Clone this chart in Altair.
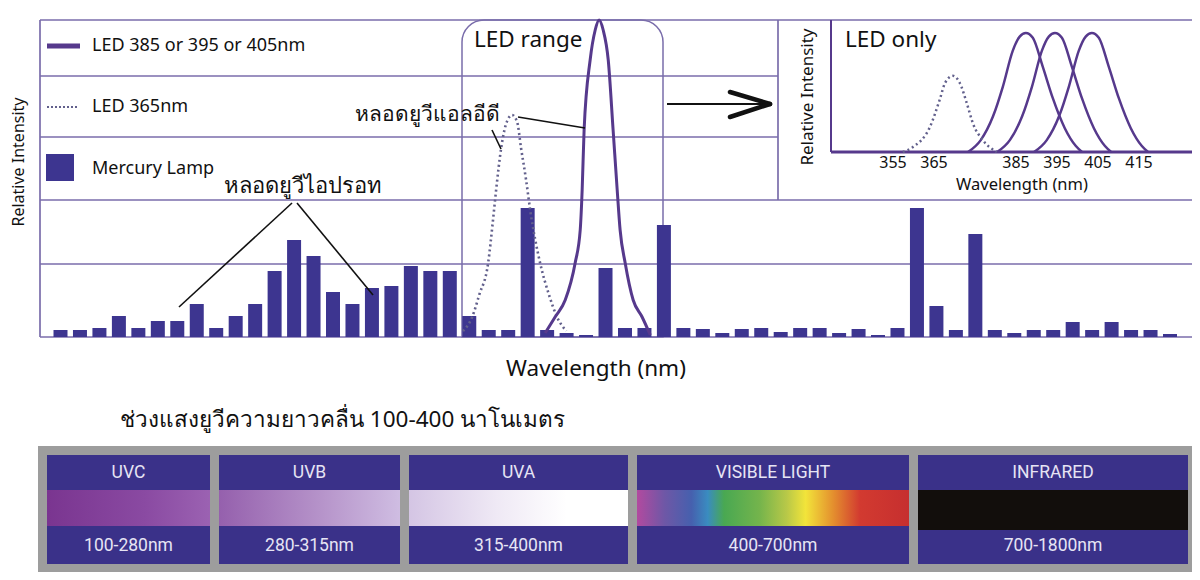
import altair as alt
import pandas as pd

W, H = 1184, 564

# ---------------- data ----------------
bar_index = list(range(1, 59))
bar_heights = [7, 7, 9, 21, 9, 16, 16, 33, 9, 21, 33, 66, 97, 81, 45, 33, 49, 51, 71, 66,
               66, 21, 7, 7, 129, 7, 4, 2, 69, 9, 9, 112, 9, 8, 4, 8, 9, 5, 9, 9,
               4, 8, 2, 9, 129, 31, 7, 103, 7, 4, 7, 7, 15, 7, 15, 7, 7, 3]

led_main_x = [25.90, 26.41, 26.93, 27.44, 27.70, 27.80, 27.90, 28.21, 28.47, 28.67,
              28.88, 29.14, 29.39, 29.60, 29.75, 30.01, 30.42, 30.88, 31.30]
led_main_y = [4, 20, 37, 74, 107, 147, 207, 277, 307, 317, 307, 277, 207, 147, 107, 74, 37, 20, 2]

led365_main_x = [21.68, 22.15, 22.51, 22.97, 23.22, 23.38, 23.64, 23.89, 24.20, 24.46,
                 24.66, 24.92, 25.13, 25.64, 26.10, 26.51, 26.98]
led365_main_y = [6, 20, 42, 74, 117, 147, 189, 213, 222, 215, 189, 157, 127, 74, 42, 20, 6]

inset_ticks = [355, 365, 385, 395, 405, 415]
led385_x = [373.3, 376.4, 379.4, 381.8, 384.2, 385.9, 387.4, 389.1, 391.5, 394.0, 396.9, 399.6, 401.1]
led395_x = [380.4, 383.5, 386.5, 388.9, 391.3, 393.0, 394.5, 396.2, 398.6, 401.1, 404.0, 406.7, 408.2]
led405_x = [389.4, 392.5, 395.5, 397.9, 400.3, 402.0, 403.5, 405.2, 407.6, 410.1, 413.0, 415.7, 417.2]
led_inset_y = [0, 0.10, 0.30, 0.55, 0.85, 0.97, 1.0, 0.96, 0.72, 0.45, 0.20, 0.05, 0]
led365_inset_x = [357.4, 359.8, 364.0, 366.4, 367.7, 369.6, 371.3, 373.0, 374.5, 376.9, 380.3]
led365_inset_y = [0, 0.04, 0.21, 0.44, 0.58, 0.64, 0.58, 0.41, 0.24, 0.10, 0]

legend_labels = ["LED 385 or 395 or 405nm", "LED 365nm", "Mercury Lamp"]
band_names = ["UVC", "UVB", "UVA", "VISIBLE LIGHT", "INFRARED"]
band_ranges = ["100-280nm", "280-315nm", "315-400nm", "400-700nm", "700-1800nm"]
title_y = "Relative Intensity"
title_x = "Wavelength (nm)"
note_led = "หลอดยูวีแอลอีดี"
note_hg = "หลอดยูวีไอปรอท"
subtitle = "ช่วงแสงยูวีความยาวคลื่น 100-400 นาโนเมตร"

# ---------------- styles / layout ----------------
FRAME = "#7a6dab"
BAR = "#3d3590"
CURVE = "#56398c"
DOT = "#62608c"
PANEL = "#3a3189"
GRAY = "#9d9d9d"
FONT = "Noto Sans"
BANDFONT = "Liberation Sans Narrow, Roboto, sans-serif"

main_x = alt.Scale(domain=[1, 58], range=[52.5, 1162], nice=False, zero=False, padding=0)
main_y = alt.Scale(domain=[0, 317], range=[329, 12], nice=False, zero=False, padding=0)
inset_x = alt.Scale(domain=[350, 420], range=[864.5, 1151.5], nice=False, zero=False, padding=0)
inset_y = alt.Scale(domain=[0, 1], range=[144, 25], nice=False, zero=False, padding=0)
cx_s = alt.Scale(domain=[0, W], range=[0, W], nice=False, zero=False, padding=0)
cy_s = alt.Scale(domain=[0, H], range=[0, H], nice=False, zero=False, padding=0)


def X(f, s):
    return alt.X(f, type="quantitative", scale=s, axis=None)


def Y(f, s):
    return alt.Y(f, type="quantitative", scale=s, axis=None)


def segs(rows):
    return pd.DataFrame(rows, columns=["x", "y", "x2", "y2"])


def rules(rows, color, width, dash=None, cap="butt"):
    kw = dict(color=color, strokeWidth=width, strokeCap=cap)
    if dash:
        kw["strokeDash"] = dash
    return alt.Chart(segs(rows)).mark_rule(**kw).encode(
        x=X("x", cx_s), y=Y("y", cy_s), x2=alt.X2("x2"), y2=alt.Y2("y2"))


def rect(rows, **kw):
    return alt.Chart(segs(rows)).mark_rect(**kw).encode(
        x=X("x", cx_s), y=Y("y", cy_s), x2=alt.X2("x2"), y2=alt.Y2("y2"))


def texts(rows, size, align="left", angle=0, color="#111111", font=FONT):
    df = pd.DataFrame(rows, columns=["t", "x", "y"])
    kw = dict(fontSize=size, align=align, baseline="middle", color=color, font=font)
    if angle:
        kw["angle"] = angle
    return alt.Chart(df).mark_text(**kw).encode(
        x=X("x", cx_s), y=Y("y", cy_s), text="t:N")


layers = []

# bottom band background & panels
layers.append(rect([(30, 438, 1188, 565)], color=GRAY))
panel_x0 = [39, 211, 401, 629, 910]
panel_x1 = [202, 392, 620, 901, 1180]
layers.append(rect([(a, 447, b, 556) for a, b in zip(panel_x0, panel_x1)], color=PANEL))

grads = [
    [("#7a3590", 0), ("#8a4aa2", 0.6), ("#9b62b2", 1)],
    [("#9560ad", 0), ("#b592c9", 0.55), ("#cfbde2", 1)],
    [("#d4c5e4", 0), ("#efe9f5", 0.4), ("#ffffff", 0.72), ("#ffffff", 1)],
    [("#b24a9f", 0), ("#6f57a6", 0.1), ("#4660ae", 0.2), ("#3a8cc0", 0.26), ("#49a852", 0.32),
     ("#74b44c", 0.45), ("#b8c848", 0.55), ("#f2e43a", 0.62), ("#e4902e", 0.72),
     ("#d23a30", 0.82), ("#c62f2f", 1)],
    [("#120e0c", 0), ("#120e0c", 1)],
]
for i, g in enumerate(grads):
    y1 = 522 if i == 4 else 518
    fill = alt.Gradient(gradient="linear", x1=0, x2=1, y1=0, y2=0,
                        stops=[alt.GradientStop(color=c, offset=o) for c, o in g])
    layers.append(rect([(panel_x0[i], 482, panel_x1[i], y1)], fill=fill))

cent = [(a + b) / 2 for a, b in zip(panel_x0, panel_x1)]
layers.append(texts([(n, c, 465) for n, c in zip(band_names, cent)], 17.5, "center",
                    color="#e6e4f4", font=BANDFONT))
layers.append(texts([(n, c, 538) for n, c in zip(band_ranges, cent)], 17.5, "center",
                    color="#e6e4f4", font=BANDFONT))

# frame of main chart
layers.append(rules([
    (32, 12, 1187, 12), (32, 68, 770, 68), (32, 129, 770, 129), (32, 192, 1187, 192),
    (32, 256, 1187, 256), (32, 329, 1187, 329),
    (32, 12, 32, 329), (1187, 12, 1187, 329), (770, 12, 770, 192)], FRAME, 1.7))

# LED range box
layers.append(alt.Chart(segs([(454, 12, 655, 329)])).mark_rect(
    fill="white", fillOpacity=0, stroke=FRAME, strokeWidth=1.5,
    cornerRadiusTopLeft=22, cornerRadiusTopRight=22).encode(
    x=X("x", cx_s), y=Y("y", cy_s), x2=alt.X2("x2"), y2=alt.Y2("y2")))

# legend
layers.append(rules([(39, 38, 72, 38)], CURVE, 5))
layers.append(rules([(39, 99, 71, 99)], DOT, 2, dash=[2, 2]))
layers.append(rect([(38, 146, 66, 173)], color=BAR))
layers.append(texts([(legend_labels[0], 84, 38), (legend_labels[1], 84, 99),
                     (legend_labels[2], 84, 161)], 18))

# mercury lamp bars
bars_df = pd.DataFrame({"i": bar_index, "h": bar_heights})
layers.append(alt.Chart(bars_df).mark_bar(size=14, color=BAR).encode(
    x=X("i", main_x), y=Y("h", main_y)))

# LED curves in main chart
layers.append(alt.Chart(pd.DataFrame({"x": led365_main_x, "y": led365_main_y})).mark_line(
    color=DOT, strokeWidth=2.6, strokeDash=[2, 3], interpolate="monotone").encode(
    x=X("x", main_x), y=Y("y", main_y), order="x:Q"))
layers.append(alt.Chart(pd.DataFrame({"x": led_main_x, "y": led_main_y})).mark_line(
    color=CURVE, strokeWidth=3, interpolate="monotone").encode(
    x=X("x", main_x), y=Y("y", main_y), order="x:Q"))

# inset axes
layers.append(rules([(823, 12, 823, 144)], CURVE, 2))
layers.append(rules([(823, 144, 1185, 144)], CURVE, 3))

# inset curves
inset_df = pd.concat([
    pd.DataFrame({"x": led385_x, "y": led_inset_y, "led": "385"}),
    pd.DataFrame({"x": led395_x, "y": led_inset_y, "led": "395"}),
    pd.DataFrame({"x": led405_x, "y": led_inset_y, "led": "405"}),
])
layers.append(alt.Chart(inset_df).mark_line(
    color=CURVE, strokeWidth=2.5, interpolate="monotone").encode(
    x=X("x", inset_x), y=Y("y", inset_y), detail="led:N", order="x:Q"))
layers.append(alt.Chart(pd.DataFrame({"x": led365_inset_x, "y": led365_inset_y})).mark_line(
    color=DOT, strokeWidth=2.5, strokeDash=[2, 3], interpolate="monotone").encode(
    x=X("x", inset_x), y=Y("y", inset_y), order="x:Q"))

# inset tick labels & titles
layers.append(alt.Chart(pd.DataFrame({"v": inset_ticks, "y": [155] * len(inset_ticks)})).mark_text(
    fontSize=16, font=FONT, color="#111111", baseline="middle", align="center").encode(
    x=X("v", inset_x), y=Y("y", cy_s), text=alt.Text("v:Q", format="d")))
layers.append(texts([(title_x, 1014, 177)], 16.5, "center"))
layers.append(texts([(title_y, 800, 89)], 17, "center", angle=270))
layers.append(texts([("LED only", 837, 32)], 22.5))

# annotations
layers.append(texts([("LED range", 466, 32)], 22.5))
layers.append(rules([(510, 109, 577, 120), (484, 122, 493, 141),
                     (284, 195, 171, 299), (289, 195, 365, 287)], "#111111", 1.6))
layers.append(rules([(659, 96, 760, 96)], "#111111", 2))
layers.append(rules([(722, 84, 762, 96), (762, 96, 722, 109)], "#111111", 4.5, cap="round"))
layers.append(texts([(note_led, 347, 107)], 21))
layers.append(texts([(note_hg, 216, 178)], 22))

# titles
layers.append(texts([(title_y, 11, 154)], 16, "center", angle=270))
layers.append(texts([(title_x, 588, 361)], 22.5, "center"))
layers.append(texts([(subtitle, 112, 412)], 22.5))

chart = alt.layer(*layers).resolve_scale(
    x="independent", y="independent"
).properties(
    width=W, height=H, padding=0,
    autosize=alt.AutoSizeParams(type="none"),
    background="white",
).configure_view(strokeWidth=0)

chart.save("out.html", embed_options={"renderer": "svg", "actions": False})
